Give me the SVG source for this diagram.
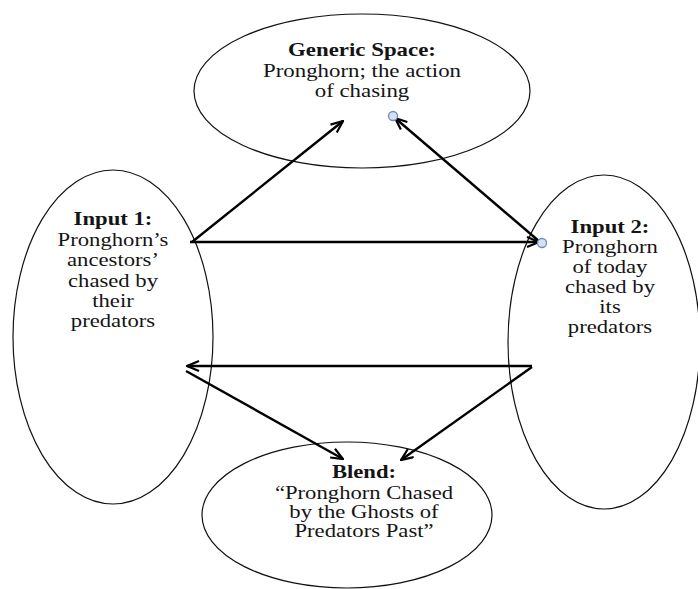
<svg xmlns="http://www.w3.org/2000/svg" width="698" height="589" viewBox="0 0 698 589">
<style>
.node ellipse{fill:#fff;stroke:#111;stroke-width:1.2}
text{font-family:"Liberation Serif","Times New Roman",serif;font-size:18px;fill:#141414;text-anchor:middle}
.b{font-weight:bold}
.conn line{stroke:#000;stroke-width:2.4;fill:none}
.dot{fill:#d4e0f4;stroke:#6d8cc4;stroke-width:1.3}
</style>
<defs>
<marker id="arr" viewBox="0 0 14 12" refX="13" refY="6" markerWidth="14" markerHeight="12" markerUnits="userSpaceOnUse" orient="auto">
<path d="M1,1 L13,6 L1,11" fill="none" stroke="#000" stroke-width="2.2"/>
</marker>
</defs>
<rect width="698" height="589" fill="#fff"/>
<g id="generic" class="node">
<ellipse cx="362" cy="91" rx="168" ry="77"/>
<g transform="translate(362,0) scale(1.27,1)">
<text class="b" x="0" y="56">Generic Space:</text>
<text x="0" y="77">Pronghorn; the action</text>
<text x="0" y="97">of chasing</text>
</g>
</g>
<g id="input1" class="node">
<ellipse cx="113" cy="337" rx="100" ry="167"/>
<g transform="translate(113,0) scale(1.26,1)">
<text class="b" x="0" y="225">Input 1:</text>
<text x="0" y="246">Pronghorn’s</text>
<text x="0" y="266">ancestors’</text>
<text x="0" y="287">chased by</text>
<text x="0" y="307">their</text>
<text x="0" y="327">predators</text>
</g>
</g>
<g id="input2" class="node">
<ellipse cx="604" cy="342" rx="96" ry="167"/>
<g transform="translate(610,0) scale(1.26,1)">
<text class="b" x="0" y="233">Input 2:</text>
<text x="0" y="253">Pronghorn</text>
<text x="0" y="273">of today</text>
<text x="0" y="293">chased by</text>
<text x="0" y="313">its</text>
<text x="0" y="333">predators</text>
</g>
</g>
<g id="blend" class="node">
<ellipse cx="347" cy="515" rx="145" ry="73"/>
<g transform="translate(364,0) scale(1.26,1)">
<text class="b" x="0" y="478">Blend:</text>
<text x="0" y="499">“Pronghorn Chased</text>
<text x="0" y="518">by the Ghosts of</text>
<text x="0" y="537">Predators Past”</text>
</g>
</g>
<g id="connectors" class="conn">
<line x1="192" y1="242" x2="343" y2="121" marker-end="url(#arr)"/>
<line x1="540" y1="242" x2="395" y2="118" marker-end="url(#arr)"/>
<line x1="190" y1="242" x2="539" y2="242" marker-end="url(#arr)"/>
<line x1="532" y1="366" x2="187" y2="366" marker-end="url(#arr)"/>
<line x1="186" y1="371" x2="343" y2="459" marker-end="url(#arr)"/>
<line x1="532" y1="367" x2="401" y2="460" marker-end="url(#arr)"/>
<circle class="dot" cx="393" cy="116" r="4.5"/>
<circle class="dot" cx="542" cy="243" r="4.5"/>
</g>
</svg>
